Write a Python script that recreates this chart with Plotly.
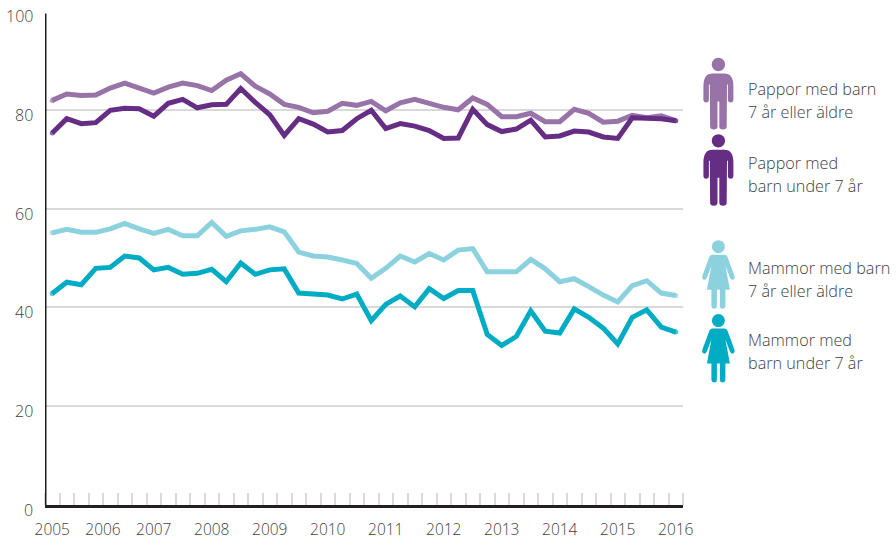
import plotly.graph_objects as go

quarters = list(range(44))
pappor_7plus = [81.9,83.2,82.9,83.0,84.4,85.4,84.4,83.4,84.6,85.4,84.9,83.9,86.0,87.3,84.8,83.2,81.1,80.5,79.4,79.7,81.3,80.9,81.7,79.8,81.4,82.1,81.3,80.5,80.0,82.4,81.1,78.6,78.6,79.3,77.6,77.6,80.1,79.3,77.5,77.7,78.9,78.4,78.8,77.8]
pappor_under7 = [75.3,78.2,77.2,77.4,79.9,80.3,80.2,78.7,81.3,82.1,80.4,81.0,81.1,84.3,81.5,79.0,74.8,78.2,77.1,75.5,75.8,78.2,79.9,76.2,77.2,76.7,75.8,74.2,74.3,80.1,77.0,75.6,76.1,77.9,74.5,74.7,75.7,75.5,74.5,74.2,78.4,78.4,78.2,77.8]
mammor_7plus = [55.1,55.8,55.2,55.2,55.9,57.0,55.9,55.0,55.8,54.5,54.5,57.2,54.4,55.5,55.8,56.3,55.3,51.2,50.4,50.2,49.6,48.9,45.9,47.9,50.4,49.2,50.9,49.6,51.6,51.9,47.2,47.2,47.2,49.7,47.8,45.2,45.8,44.2,42.5,41.1,44.4,45.4,42.9,42.4]
mammor_under7 = [42.8,45.1,44.6,47.9,48.1,50.4,50.0,47.6,48.1,46.7,46.9,47.7,45.2,49.0,46.7,47.6,47.8,42.9,42.7,42.5,41.7,42.7,37.3,40.6,42.3,40.1,43.8,41.8,43.4,43.4,34.5,32.3,34.1,39.3,35.2,34.8,39.7,38.0,35.8,32.6,38.0,39.5,36.0,35.0]

year_labels = ["2005","2006","2007","2008","2009","2010","2011","2012","2013","2014","2015","2016"]
year_positions = [0,3.5,7,11,15,19,23,27,31,35,39,43]
y_labels = [0,20,40,60,80,100]
grid_values = [20,40,60,80]

LIGHT_PURPLE = "#9873a8"
DARK_PURPLE = "#662d84"
LIGHT_TEAL = "#8cd1de"
TEAL = "#00acc4"
TEXT = "#414042"
FONT = "Open Sans"

W, H = 896, 540
L, R, T, B = 44.6, 682.6, 10.7, 505.3


def px(x):
    return (x - L) / (R - L)


def py(y):
    return (B - y) / (B - T)


MAN = [(-6,9),(6,9),"Q",(15,9),(15,22),(15,35),"Q",(15,38),(12.2,38),"Q",(9.5,38),(9.5,35),(9.5,20),(8.6,20),(8.3,62),"Q",(8.3,65),(4.6,65),"Q",(0.9,65),(0.9,62),(0.9,37),(-0.9,37),(-0.9,62),"Q",(-0.9,65),(-4.6,65),"Q",(-8.3,65),(-8.3,62),(-8.6,20),(-9.5,20),(-9.5,35),"Q",(-9.5,38),(-12.2,38),"Q",(-15,38),(-15,35),(-15,22),"Q",(-15,9),(-6,9)]
WOMAN = [(-6,8),(6,8),"Q",(8,8),(9,10),(16,29),"Q",(17,32),(14.5,33),"Q",(12.5,33.5),(11.5,31),(7,19),(11.5,43),(7,43),(7,59),"Q",(7,62),(4,62),"Q",(1.5,62),(1.5,59),(1.5,43),(-1.5,43),(-1.5,59),"Q",(-1.5,62),(-4,62),"Q",(-7,62),(-7,59),(-7,43),(-11.5,43),(-7,19),(-11.5,31),"Q",(-12.5,33.5),(-14.5,33),"Q",(-17,32),(-16,29),(-9,10),"Q",(-8,8),(-6,8)]


def path(points):
    out = []
    i = 0
    first = True
    while i < len(points):
        p = points[i]
        if p == "Q":
            a, b = points[i + 1], points[i + 2]
            out.append(f"Q {a[0]} {-a[1]} {b[0]} {-b[1]}")
            i += 3
        else:
            out.append(f"{'M' if first else 'L'} {p[0]} {-p[1]}")
            first = False
            i += 1
    return " ".join(out) + " Z"


def icon(shape, head_r, cx, cy, color):
    base = dict(xref="paper", yref="paper", xsizemode="pixel", ysizemode="pixel",
                xanchor=px(cx), yanchor=py(cy), fillcolor=color, line=dict(width=0), layer="above")
    return [
        dict(type="path", path=path(shape), **base),
        dict(type="circle", x0=-head_r, x1=head_r, y0=-head_r, y1=head_r, **base),
    ]


fig = go.Figure()
for name, values, color in [
    ("Pappor med barn 7 år eller äldre", pappor_7plus, LIGHT_PURPLE),
    ("Pappor med barn under 7 år", pappor_under7, DARK_PURPLE),
    ("Mammor med barn 7 år eller äldre", mammor_7plus, LIGHT_TEAL),
    ("Mammor med barn under 7 år", mammor_under7, TEAL),
]:
    sizes = [0] * len(values)
    sizes[0] = sizes[-1] = 5
    fig.add_trace(go.Scatter(
        x=quarters, y=values, name=name, mode="lines+markers",
        line=dict(color=color, width=5),
        marker=dict(size=sizes, color=color, line=dict(width=0)),
        cliponaxis=False, showlegend=False, hoverinfo="skip",
    ))

annotations = [
    dict(xref="paper", yref="y", x=0, y=v, xanchor="right", yanchor="middle", xshift=-10, yshift=-5,
         text=str(v), showarrow=False, font=dict(family=FONT, size=16, color=TEXT, weight=300))
    for v in y_labels
]
for text, y in [
    ("Pappor med barn", 89), ("7 år eller äldre", 111.5),
    ("Pappor med", 163), ("barn under 7 år", 185.5),
    ("Mammor med barn", 268), ("7 år eller äldre", 291),
    ("Mammor med", 340), ("barn under 7 år", 363),
]:
    annotations.append(dict(xref="paper", yref="paper", x=px(746), y=py(y), xanchor="left", yanchor="middle",
                            text=text, showarrow=False, font=dict(family=FONT, size=16.2, color=TEXT, weight=300)))

shapes = [
    dict(type="line", xref="x", yref="y", x0=-0.5, x1=-0.5, y0=0, y1=99.5,
         line=dict(color="#231f20", width=3), layer="above"),
]
shapes += icon(MAN, 6.7, 718, 64.3, LIGHT_PURPLE)
shapes += icon(MAN, 6.7, 718, 140.7, DARK_PURPLE)
shapes += icon(WOMAN, 6.5, 718, 246.7, LIGHT_TEAL)
shapes += icon(WOMAN, 6.5, 718, 320.7, TEAL)

fig.update_layout(
    width=W, height=H, autosize=False,
    margin=dict(l=L, r=W - R, t=T, b=H - B, pad=0),
    paper_bgcolor="white", plot_bgcolor="white",
    font=dict(family=FONT, color=TEXT),
    annotations=annotations, shapes=shapes,
    xaxis=dict(
        range=[-0.5, 43.5], tickmode="array", tickvals=year_positions, ticktext=year_labels,
        ticks="", showgrid=False, zeroline=False, showline=True, linecolor="#231f20", linewidth=3,
        automargin=False,
        tickfont=dict(family=FONT, size=15.5, color=TEXT, weight=300), ticklabelstandoff=8,
        minor=dict(ticks="inside", tick0=-0.5, dtick=1, ticklen=12, tickcolor="#d9d9d9", tickwidth=1.5, showgrid=False),
    ),
    yaxis=dict(
        range=[0, 100], tickmode="array", tickvals=grid_values, showticklabels=False, automargin=False,
        ticks="", showgrid=True, gridcolor="#d9d9d9", gridwidth=1.5, zeroline=False, showline=False,
    ),
)

# Remove the page's default body margin so the figure fills the 896x540 window exactly.
fig.write_html("out.html", config={"displayModeBar": False}, post_script="document.body.style.margin='0';")
